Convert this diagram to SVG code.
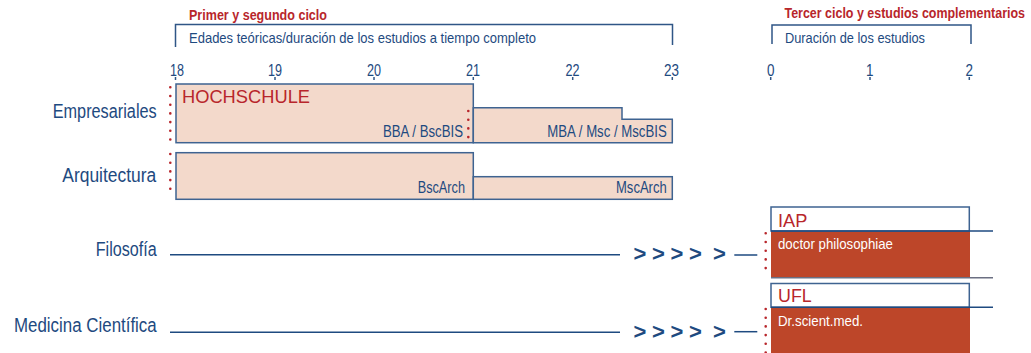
<svg xmlns="http://www.w3.org/2000/svg" width="1031" height="353" viewBox="0 0 1031 353">
<style>
.bg{fill:#ffffff}
.lbl{font-family:"Liberation Sans Narrow","Liberation Sans",Arial,sans-serif;fill:#1e4a80;font-size:20px}
.hd{font-family:"Liberation Sans Narrow","Liberation Sans",Arial,sans-serif;fill:#b8262b;font-size:14px;font-weight:bold}
.sub{font-family:"Liberation Sans Narrow","Liberation Sans",Arial,sans-serif;fill:#1e4a80;font-size:15px}
.num{font-family:"Liberation Sans",Arial,sans-serif;fill:#1e4a80;font-size:17px}
.inbox{font-family:"Liberation Sans",Arial,sans-serif;fill:#1e4a80;font-size:16px}
.red{font-family:"Liberation Sans",Arial,sans-serif;fill:#b8262b;font-size:18px}
.wht{font-family:"Liberation Sans",Arial,sans-serif;fill:#ffffff;font-size:15px}
.chev{font-family:"Liberation Sans",Arial,sans-serif;fill:#1e4a80;font-size:22px;font-weight:bold}
.brk{fill:none;stroke:#2f5686;stroke-width:1.5}
.tick{stroke:#2f5686;stroke-width:1.5}
.box{fill:#f3d9cb;stroke:#3e6391;stroke-width:1.5}
.wbox{fill:#ffffff;stroke:#3e6391;stroke-width:1.5}
.rbox{fill:#bd4629}
.conn{stroke:#1e4a80;stroke-width:1.5;fill:none}
.dots{stroke:#b8262b;stroke-width:2.6;stroke-linecap:round;stroke-dasharray:0 8.7;fill:none}
</style>
<rect class="bg" x="0" y="0" width="1031" height="353"/>

<g id="header-left">
  <text class="hd" x="189" y="20" textLength="138" lengthAdjust="spacingAndGlyphs">Primer y segundo ciclo</text>
  <polyline class="brk" points="175.5,47 175.5,24.5 672.5,24.5 672.5,45"/>
  <text class="sub" x="189" y="43" textLength="347" lengthAdjust="spacingAndGlyphs">Edades teóricas/duración de los estudios a tiempo completo</text>
</g>

<g id="header-right">
  <text class="hd" x="784.5" y="18" textLength="240.5" lengthAdjust="spacingAndGlyphs">Tercer ciclo y estudios complementarios</text>
  <polyline class="brk" points="772,44 772,25 971,25 971,44"/>
  <text class="sub" x="785" y="43" textLength="140" lengthAdjust="spacingAndGlyphs">Duración de los estudios</text>
</g>

<g id="axis-left">
  <line class="tick" x1="175.5" y1="77" x2="175.5" y2="80"/>
  <line class="tick" x1="275" y1="77" x2="275" y2="80"/>
  <line class="tick" x1="374" y1="77" x2="374" y2="80"/>
  <line class="tick" x1="473.3" y1="77" x2="473.3" y2="80"/>
  <line class="tick" x1="572.7" y1="77" x2="572.7" y2="80"/>
  <line class="tick" x1="672.3" y1="77" x2="672.3" y2="80"/>
  <text class="num" x="170" y="76" textLength="14" lengthAdjust="spacingAndGlyphs">18</text>
  <text class="num" x="268" y="76" textLength="14" lengthAdjust="spacingAndGlyphs">19</text>
  <text class="num" x="367" y="76" textLength="14" lengthAdjust="spacingAndGlyphs">20</text>
  <text class="num" x="466" y="76" textLength="14" lengthAdjust="spacingAndGlyphs">21</text>
  <text class="num" x="565.5" y="76" textLength="14" lengthAdjust="spacingAndGlyphs">22</text>
  <text class="num" x="664" y="76" textLength="15" lengthAdjust="spacingAndGlyphs">23</text>
</g>

<g id="axis-right">
  <line class="tick" x1="770.7" y1="77" x2="770.7" y2="80"/>
  <line class="tick" x1="870" y1="77" x2="870" y2="80"/>
  <line class="tick" x1="969.3" y1="77" x2="969.3" y2="80"/>
  <text class="num" x="767" y="76" textLength="7.5" lengthAdjust="spacingAndGlyphs">0</text>
  <text class="num" x="866" y="76" textLength="7.5" lengthAdjust="spacingAndGlyphs">1</text>
  <text class="num" x="965.5" y="76" textLength="7.5" lengthAdjust="spacingAndGlyphs">2</text>
</g>

<g id="node-empresariales">
  <text class="lbl" x="52.7" y="118" textLength="104" lengthAdjust="spacingAndGlyphs">Empresariales</text>
  <line class="dots" x1="170.3" y1="87.3" x2="170.3" y2="141"/>
  <rect class="box" x="176" y="84" width="297.3" height="58.7"/>
  <polygon class="box" points="473.3,107.7 622,107.7 622,119.3 672.3,119.3 672.3,142.7 473.3,142.7"/>
  <text class="red" x="182" y="103.3" textLength="128" lengthAdjust="spacingAndGlyphs">HOCHSCHULE</text>
  <text class="inbox" x="383" y="137.3" textLength="80" lengthAdjust="spacingAndGlyphs">BBA / BscBIS</text>
  <line class="dots" x1="468.3" y1="111" x2="468.3" y2="141"/>
  <text class="inbox" x="547.3" y="137.3" textLength="119.4" lengthAdjust="spacingAndGlyphs">MBA / Msc / MscBIS</text>
</g>

<g id="node-arquitectura">
  <text class="lbl" x="62.3" y="181.7" textLength="94" lengthAdjust="spacingAndGlyphs">Arquitectura</text>
  <line class="dots" x1="170.3" y1="154" x2="170.3" y2="197"/>
  <rect class="box" x="176" y="152.7" width="297.3" height="46.6"/>
  <rect class="box" x="473.3" y="176.7" width="199" height="22.6"/>
  <text class="inbox" x="417.7" y="193.3" textLength="47.3" lengthAdjust="spacingAndGlyphs">BscArch</text>
  <text class="inbox" x="616" y="193.3" textLength="50.7" lengthAdjust="spacingAndGlyphs">MscArch</text>
</g>

<g id="node-filosofia">
  <text class="lbl" x="95.7" y="256" textLength="61" lengthAdjust="spacingAndGlyphs">Filosofía</text>
</g>

<g id="node-medicina">
  <text class="lbl" x="14" y="331.7" textLength="142.7" lengthAdjust="spacingAndGlyphs">Medicina Científica</text>
</g>

<g id="node-iap">
  <rect class="rbox" x="771" y="231" width="199" height="46.7"/>
  <rect class="wbox" x="771" y="207" width="198.3" height="24"/>
  <line stroke="#1e4a80" stroke-width="1.5" x1="771" y1="231" x2="993" y2="231"/>
  <line stroke="#6b6f82" stroke-width="1.5" x1="771" y1="277.7" x2="993" y2="277.7"/>
  <line class="dots" x1="765.7" y1="233.3" x2="765.7" y2="276"/>
  <text class="red" x="778" y="226.7" textLength="29.3" lengthAdjust="spacingAndGlyphs">IAP</text>
  <text class="wht" x="778" y="249.3" textLength="115" lengthAdjust="spacingAndGlyphs">doctor philosophiae</text>
</g>

<g id="node-ufl">
  <rect class="rbox" x="771" y="307.3" width="199" height="46"/>
  <rect class="wbox" x="771" y="283.5" width="198.3" height="23.8"/>
  <line stroke="#1e4a80" stroke-width="1.5" x1="771" y1="307.3" x2="993" y2="307.3"/>
  <line class="dots" x1="765.7" y1="309" x2="765.7" y2="353"/>
  <text class="red" x="778" y="301.7" textLength="33.7" lengthAdjust="spacingAndGlyphs">UFL</text>
  <text class="wht" x="778" y="326" textLength="85" lengthAdjust="spacingAndGlyphs">Dr.scient.med.</text>
</g>

<g id="connectors">
  <line class="conn" x1="170" y1="254.7" x2="620" y2="254.7"/>
  <text class="chev" x="633.5 652 670.5 689 713" y="261">&gt;&gt;&gt;&gt;&gt;</text>
  <line class="conn" x1="734.3" y1="255" x2="757.3" y2="255"/>
  <line class="conn" x1="170" y1="332.3" x2="620" y2="332.3"/>
  <text class="chev" x="633.5 652 670.5 689 713" y="338.5">&gt;&gt;&gt;&gt;&gt;</text>
  <line class="conn" x1="734.3" y1="331.7" x2="757.3" y2="331.7"/>
</g>
</svg>
